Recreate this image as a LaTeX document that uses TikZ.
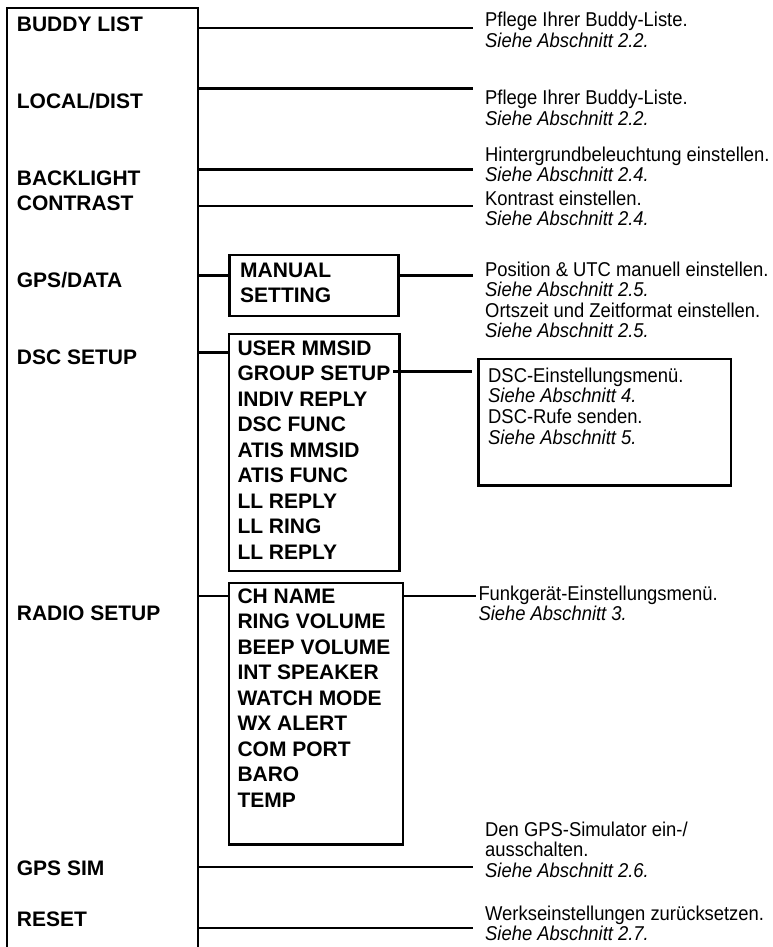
\documentclass[tikz,border=0pt]{standalone}
\usepackage{fontspec}
\setmainfont{Liberation Sans}
\newfontfamily\descfont{Liberation Sans}[FakeStretch=0.92]
\usetikzlibrary{positioning}

\begin{document}
\begin{tikzpicture}[x=1pt,y=-1pt,
      lbl/.style={inner sep=0pt,anchor=base west,align=left,
                  font=\fontsize{21}{25.5}\selectfont\bfseries},
      desc/.style={inner sep=0pt,anchor=base west,align=left,
                   font=\descfont\fontsize{20}{20.6}\selectfont},
      box/.style={draw,line width=2.4pt,anchor=north west,inner sep=0pt},
      ln/.style={line width=2.2pt},
      to/.style={ln,shorten >=12pt}]
    \useasboundingbox (0,0) rectangle (773,947);
    \draw[ln] (7,952) |- (198,8) -- (198,952);
    \node[lbl] (buddy) at (16.7,31.5) {BUDDY LIST};
    \node[lbl] (local) at (16.7,108.3) {LOCAL/DIST};
    \node[lbl] (backlight) at (16.7,185.7) {BACKLIGHT};
    \node[lbl] (contrast) at (16.7,210.7) {CONTRAST};
    \node[lbl] (gpsdata) at (16.7,287.3) {GPS/DATA};
    \node[lbl] (dscsetup) at (16.7,364.3) {DSC SETUP};
    \node[lbl] (radiosetup) at (16.7,620) {RADIO SETUP};
    \node[lbl] (gpssim) at (16.7,875.7) {GPS SIM};
    \node[lbl] (reset) at (16.7,926.7) {RESET};
    \node[box,minimum width=169pt,minimum height=61pt] (manual) at (228.3,254) {};
    \node[lbl] (manualtxt) at (240,302.8) {MANUAL\\SETTING};
    \node[box,minimum width=170.6pt,minimum height=237.3pt] (dsc) at (227.7,332.7) {};
    \node[lbl] (dscitems) at (237.3,559) {USER MMSID\\GROUP SETUP\\INDIV REPLY\\DSC FUNC\\ATIS MMSID\\ATIS FUNC\\LL REPLY\\LL RING\\LL REPLY};
    \node[box,minimum width=174pt,minimum height=261.6pt] (radio) at (227.7,581.7) {};
    \node[lbl] (radioitems) at (237.3,807.3) {CH NAME\\RING VOLUME\\BEEP VOLUME\\INT SPEAKER\\WATCH MODE\\WX ALERT\\COM PORT\\BARO\\TEMP};
    \node[box,minimum width=252.7pt,minimum height=126.6pt] (dscinfo) at (477.3,357.7) {};
    \node[desc] (buddyinfo) at (485,47.6) {Pflege Ihrer Buddy-Liste.\\\textit{Siehe Abschnitt 2.2.}};
    \node[desc] (localinfo) at (485,125.6) {Pflege Ihrer Buddy-Liste.\\\textit{Siehe Abschnitt 2.2.}};
    \node[desc] (backinfo) at (485,181.6) {Hintergrundbeleuchtung einstellen.\\\textit{Siehe Abschnitt 2.4.}};
    \node[desc] (contrinfo) at (485,225.6) {Kontrast einstellen.\\\textit{Siehe Abschnitt 2.4.}};
    \node[desc] (manualinfo) at (485,337.8) {Position \& UTC manuell einstellen.\\\textit{Siehe Abschnitt 2.5.}\\Ortszeit und Zeitformat einstellen.\\\textit{Siehe Abschnitt 2.5.}};
    \node[desc] (dscinfotxt) at (488,444) {DSC-Einstellungsmenü.\\\textit{Siehe Abschnitt 4.}\\DSC-Rufe senden.\\\textit{Siehe Abschnitt 5.}};
    \node[desc] (radioinfo) at (478.3,620.6) {Funkgerät-Einstellungsmenü.\\\textit{Siehe Abschnitt 3.}};
    \node[desc] (siminfo) at (485,877.2) {Den GPS-Simulator ein-/\\ausschalten.\\\textit{Siehe Abschnitt 2.6.}};
    \node[desc] (resetinfo) at (485,940.6) {Werkseinstellungen zurücksetzen.\\\textit{Siehe Abschnitt 2.7.}};
    \coordinate (e1) at (198,28.3);
    \coordinate (e2) at (198,88.5);
    \coordinate (e3) at (198,169.5);
    \coordinate (e4) at (198,206);
    \coordinate (e5) at (198,275.5);
    \coordinate (e6) at (198,352.5);
    \coordinate (e7) at (198,596);
    \coordinate (e8) at (198,866.7);
    \coordinate (e9) at (198,928.3);
    \coordinate (grp) at (393,371.5);
    \draw[to] (e1) -- (e1 -| buddyinfo.west);
    \draw[to] (e2) -- (e2 -| localinfo.west);
    \draw[to] (e3) -- (e3 -| backinfo.west);
    \draw[to] (e4) -- (e4 -| contrinfo.west);
    \draw[ln] (e5) -- (e5 -| manual.west);
    \draw[to] (manual.east |- e5) -- (e5 -| manualinfo.west);
    \draw[ln] (e6) -- (e6 -| dsc.west);
    \draw[ln,shorten >=5pt] (grp) -- (grp -| dscinfo.west);
    \draw[ln] (e7) -- (e7 -| radio.west);
    \draw[ln,shorten >=2pt] (radio.east |- e7) -- (e7 -| radioinfo.west);
    \draw[to] (e8) -- (e8 -| siminfo.west);
    \draw[to] (e9) -- (e9 -| resetinfo.west);
  \end{tikzpicture}
\end{document}
